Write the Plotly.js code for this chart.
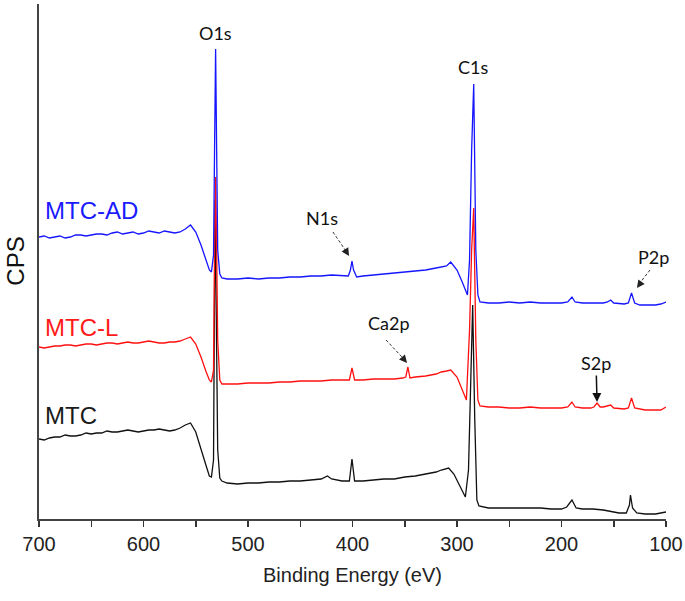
<!DOCTYPE html>
<html>
<head>
<meta charset="utf-8">
<script src="https://cdn.plot.ly/plotly-3.0.1.min.js"></script>
<style>html,body{margin:0;padding:0;background:#fff;}#chart{width:685px;height:601px;}</style>
</head>
<body>
<div id="chart"></div>
<script>
// ---- Data (binding energy in eV, relative intensity, offset per sample) ----
var energyAD = [700,695,690,685,680,675,670,665,660,655,650,645,640,635,630,625,620,615,610,605,600,595,590,585,580,575,570,565,560,555,550,545,540,537,535,533,532,531,530,529,527,525,520,510,500,490,480,470,460,450,440,430,420,410,404,402,400.5,399,396,390,380,370,360,350,340,330,320,310,306,300,295,290,288,286,284,283,282,280,278,270,260,250,240,230,220,210,200,194,190,187,180,170,160,156,153,150,140,136,133,130,125,120,110,105,100];
var cpsAD    = [282,283,281,282,283,281,282,284,284,283,284,285,285,284,286,287,285,286,287,285,286,288,287,286,288,287,286,287,290,294,287,274,259,249,247,264,369,470,369,269,245,241,240,240,241,240,241,241,242,242,243,243,244,243,243,249,258,249,242,243,244,245,246,247,248,249,251,253,257,249,237,224,259,369,435,369,269,224,217,216,216,217,216,217,216,216,216,217,222,217,216,216,216,217,219,216,215,216,226,216,214,214,214,215,217];

var energyL  = [700,695,690,685,680,675,670,665,660,655,650,645,640,635,630,625,620,615,610,605,600,595,590,585,580,575,570,565,560,555,550,545,540,537,535,533,532,531,530,529,527,525,520,510,500,490,480,470,460,450,440,430,420,410,403,400.5,398,390,380,370,360,352,349,347,345,340,330,320,315,310,306,300,295,291,288,286,284,283,282,280,278,270,260,250,240,230,220,210,200,194,190,187,180,172,169,166,163,160,156,153,150,140,136,133,130,125,120,110,105,100];
var cpsL     = [172,171,172,173,173,174,174,173,174,175,175,174,175,176,176,175,176,177,176,176,177,178,177,176,176,177,177,178,180,182,175,162,147,139,137,149,269,342,269,179,139,135,135,135,136,136,136,137,137,138,138,138,139,139,139,151,139,139,140,140,140,141,142,152,141,142,143,145,147,148,149,142,129,119,189,269,311,259,179,119,113,112,112,111,111,112,111,111,111,112,117,112,111,111,112,116,112,112,113,114,111,110,111,121,111,110,109,109,109,112];

var energyMTC = [700,695,690,685,680,675,670,665,660,655,650,645,640,635,630,625,620,615,610,605,600,595,590,585,580,575,570,565,560,555,550,545,540,537,535,533,532,531.5,530.5,529,527,525,520,510,500,490,480,470,460,450,440,430,424,420,410,403,400.5,398,390,380,370,360,350,340,330,320,315,308,303,298,292,289,287,285,283,281,279,270,260,250,240,230,220,210,200,195,190,186,180,170,160,150,145,138,135,134,132,128,120,110,100];
var cpsMTC    = [80,79,81,82,82,84,83,83,84,86,85,86,86,88,87,87,88,89,88,87,88,89,89,90,89,88,89,91,94,96,87,71,53,43,42,59,219,319,219,69,41,38,36,35,36,36,37,37,38,38,39,40,43,40,38,38,60,38,38,39,40,40,42,43,45,47,49,51,45,34,22,49,139,214,99,19,13,11,11,11,11,11,11,10,10,12,19,11,10,10,9,7,6,6,14,24,11,6,5,5,7];

var seriesNames = ['MTC', 'MTC-L', 'MTC-AD'];
var xTickVals = [700, 600, 500, 400, 300, 200, 100];
var peakLabels = ['O1s', 'C1s', 'N1s', 'Ca2p', 'P2p', 'S2p'];

// ---- Styling / layout ----
var colors = ['#111111', '#ff1010', '#1515ff'];
var traces = [
  {x: energyMTC, y: cpsMTC, name: seriesNames[0]},
  {x: energyL, y: cpsL, name: seriesNames[1]},
  {x: energyAD, y: cpsAD, name: seriesNames[2]}
].map(function (t, i) {
  t.type = 'scatter'; t.mode = 'lines';
  t.line = {color: colors[i], width: 1.3};
  t.hoverinfo = 'x+y+name';
  return t;
});

var lblFont = {family: 'Lato, "Open Sans", sans-serif', size: 18, color: '#111'};
var serFont = function (c) { return {family: '"Liberation Sans", Arial, sans-serif', size: 24, color: c}; };
var dashLine = {color: '#333', width: 1, dash: '3px,2px'};

var annotations = [
  {x: 531, y: 486, text: peakLabels[0], showarrow: false, font: lblFont},
  {x: 285, y: 452, text: peakLabels[1], showarrow: false, font: lblFont},
  {x: 429.2, y: 301, text: peakLabels[2], showarrow: false, font: lblFont},
  {x: 365.1, y: 196, text: peakLabels[3], showarrow: false, font: lblFont},
  {x: 112.4, y: 262, text: peakLabels[4], showarrow: false, font: lblFont},
  {x: 166.0, y: 117, text: peakLabels[5], showarrow: true, ax: -1, ay: -39, arrowhead: 2,
   arrowsize: 1.2, arrowwidth: 1.5, arrowcolor: '#111', font: lblFont, standoff: 0},
  // arrowheads of dashed arrows
  {x: 403.3, y: 263, text: '', showarrow: true, ax: -5, ay: -8, arrowhead: 2, arrowsize: 1.3, arrowwidth: 1.2, arrowcolor: '#222'},
  {x: 347.8, y: 156, text: '', showarrow: true, ax: -6, ay: -7, arrowhead: 2, arrowsize: 1.3, arrowwidth: 1.2, arrowcolor: '#222'},
  {x: 127.8, y: 231, text: '', showarrow: true, ax: 5, ay: -7, arrowhead: 2, arrowsize: 1.3, arrowwidth: 1.2, arrowcolor: '#222'},
  // series labels
  {xref: 'paper', x: 0.0064, xanchor: 'left', y: 309, yanchor: 'middle', text: seriesNames[2], showarrow: false, font: serFont('#1a1aff')},
  {xref: 'paper', x: 0.0064, xanchor: 'left', y: 192, yanchor: 'middle', text: seriesNames[1], showarrow: false, font: serFont('#ff1a1a')},
  {xref: 'paper', x: 0.0064, xanchor: 'left', y: 104, yanchor: 'middle', text: seriesNames[0], showarrow: false, font: serFont('#1a1a1a')},
  // CPS axis title
  {xref: 'paper', yref: 'paper', x: -0.038, y: 0.5, xanchor: 'center', yanchor: 'middle', textangle: -90,
   text: 'CPS', showarrow: false, font: {family: '"Liberation Sans", Arial, sans-serif', size: 24, color: '#111'}}
];

var shapes = [
  {type: 'line', xref: 'x', yref: 'y', x0: 418.7, y0: 287, x1: 405, y1: 266, line: dashLine},
  {type: 'line', xref: 'x', yref: 'y', x0: 367.9, y0: 179, x1: 350, y1: 159, line: dashLine},
  {type: 'line', xref: 'x', yref: 'y', x0: 115.3, y0: 249, x1: 126.5, y1: 234, line: dashLine}
];

var layout = {
  width: 685, height: 601,
  margin: {l: 39, r: 19, t: 4, b: 82},
  paper_bgcolor: '#fff', plot_bgcolor: '#fff',
  showlegend: false,
  font: {family: '"Liberation Sans", Arial, sans-serif', color: '#222'},
  xaxis: {
    range: [700, 100], autorange: false,
    tickvals: xTickVals, ticks: 'outside', ticklen: 6, tickwidth: 1.5, tickcolor: '#333',
    minor: {dtick: 50, ticks: 'outside', ticklen: 6, tickwidth: 1.5, tickcolor: '#333'},
    showline: true, linecolor: '#444', linewidth: 2,
    showgrid: false, zeroline: false,
    tickfont: {family: '"Liberation Sans", Arial, sans-serif', size: 20, color: '#222'},
    title: {text: 'Binding Energy (eV)', standoff: 14, font: {family: '"Liberation Sans", Arial, sans-serif', size: 20, color: '#222'}}
  },
  yaxis: {
    range: [0, 515], autorange: false,
    showline: true, linecolor: '#444', linewidth: 2,
    showticklabels: false, ticks: '', showgrid: false, zeroline: false
  },
  annotations: annotations,
  shapes: shapes
};

Plotly.newPlot('chart', traces, layout, {displayModeBar: false, staticPlot: true});
</script>
</body>
</html>
